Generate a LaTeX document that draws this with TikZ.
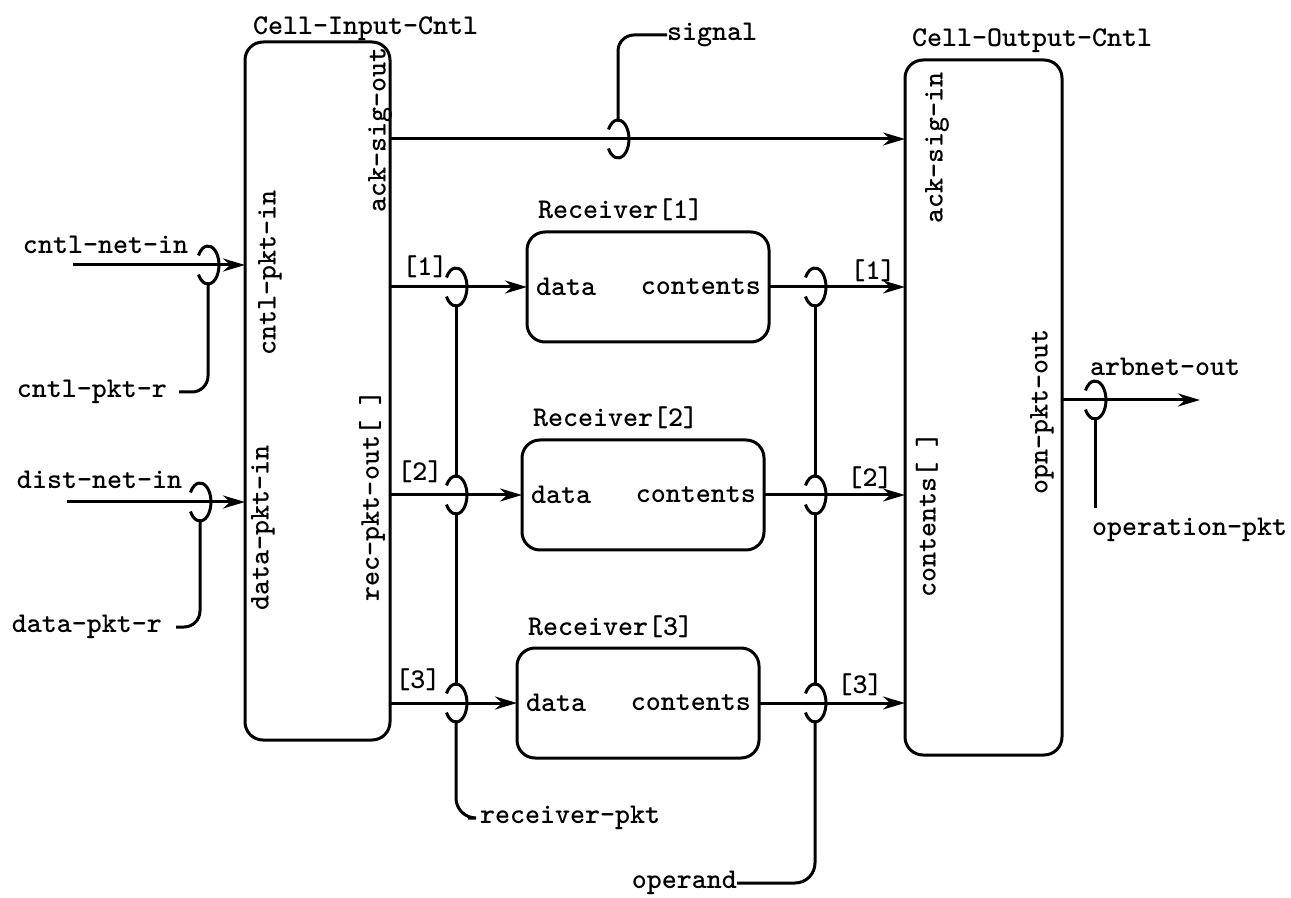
\documentclass[tikz,border=0pt]{standalone}
\usepackage{tikz}
\usetikzlibrary{arrows.meta}

\begin{document}
\begin{tikzpicture}[x=0.5pt,y=-0.5pt,line width=1.5pt,
every node/.style={font=\fontsize{14.3pt}{17pt}\selectfont\ttfamily\fontseries{b}\selectfont,inner sep=0pt,outer sep=0pt},
block/.style={draw,shape=rectangle,rounded corners=9pt},
hook/.style={shape=rectangle,minimum width=11pt,minimum height=19pt},
conn/.style={-{Stealth[length=11pt,width=6.5pt]}}]
\useasboundingbox (0,0) rectangle (1291,898);
% controllers and receivers
\node[block,minimum width=72.5pt,minimum height=349pt] (cin) at (317.5,391) {};
\node[block,minimum width=78.5pt,minimum height=347.5pt] (cout) at (983.5,407.5) {};
\node[block,minimum width=121pt,minimum height=55pt] (rc1) at (648,287) {};
\node[block,minimum width=121pt,minimum height=55pt] (rc2) at (643,495) {};
\node[block,minimum width=121pt,minimum height=55pt] (rc3) at (638,703) {};
\node[anchor=base west] (tin) at (253,35) {Cell-Input-Cntl};
\node[anchor=base west] (tout) at (912,47) {Cell-Output-Cntl};
\foreach \i in {1,2,3} {
\node[anchor=base west] (trc\i) at ([xshift=5.5pt,yshift=6.5pt]rc\i.north west) {Receiver[\i]};
\node[anchor=west] (dat\i) at ([xshift=4.5pt]rc\i.west) {data};
\node[anchor=east] (con\i) at ([xshift=-4pt]rc\i.east) {contents};
}
% ports
\node[rotate=90] (cpin) at (270,273) {cntl-pkt-in};
\node[rotate=90] (dpin) at (263,528) {data-pkt-in};
\node[rotate=90] (rpout) at (372,496) {rec-pkt-out[ ]};
\node[rotate=90] (asout) at (380,130) {ack-sig-out};
\node[rotate=90] (asin) at (937,148) {ack-sig-in};
\node[rotate=90] (cnts) at (927,515) {contents[ ]};
\node[rotate=90] (opout) at (1042,412) {opn-pkt-out};
% hooks
\node[hook] (hc) at (208,265) {};
\node[hook] (hd) at (200,502) {};
\node[hook] (hs) at (618,139) {};
\node[hook] (hl1) at (456,287) {};
\node[hook] (hl2) at (456,495) {};
\node[hook] (hl3) at (456,703) {};
\node[hook] (hr1) at (815,287) {};
\node[hook] (hr2) at (815,495) {};
\node[hook] (hr3) at (815,703) {};
\node[hook] (ha) at (1095,400) {};
\foreach \h in {hc,hd,hs,hl1,hl2,hl3,hr1,hr2,hr3,ha}
\draw (\h.center) ++(-9.53,9.5) arc[start angle=150,end angle=-150,x radius=11,y radius=19];
% names
\node[anchor=west] (cnin) at (23,245) {cntl-net-in};
\node[anchor=east] (cpr) at (167,392) {cntl-pkt-r};
\node[anchor=west] (dnin) at (17,480) {dist-net-in};
\node[anchor=east] (dpr) at (162,627) {data-pkt-r};
\node[anchor=west] (sig) at (667,35) {signal};
\node[anchor=west] (rpkt) at (480,818) {receiver-pkt};
\node[anchor=east] (opd) at (737,883) {operand};
\node[anchor=west] (arb) at (1090,367) {arbnet-out};
\node[anchor=west,outer sep=5pt] (opk) at (1082,530) {operation-pkt};
\node (li1) at (425,267) {[1]};
\node (li2) at (420,472) {[2]};
\node (li3) at (418,680) {[3]};
\node (ri1) at (873,271) {[1]};
\node (ri2) at (870,478) {[2]};
\node (ri3) at (860,685) {[3]};
\coordinate (cnsrc) at (73,265);
\coordinate (dnsrc) at (67,502);
\coordinate (arbdst) at (1200,400);
% connectors
\draw[conn] (cnsrc) -- (cin.west |- cnsrc);
\draw[conn] (dnsrc) -- (cin.west |- dnsrc);
\draw[conn] (cin.east |- hs) -- (cout.west |- hs);
\foreach \i in {1,2,3} {
\draw[conn] (cin.east |- rc\i.west) -- (rc\i.west);
\draw[conn] (rc\i.east) -- (cout.west |- rc\i.east);
}
\draw[conn] (cout.east |- ha) -- (arbdst);
% buses
\draw[rounded corners=8pt] (hc.south) |- ([xshift=6pt]cpr.east);
\draw[rounded corners=8pt] (hd.south) |- ([xshift=7pt]dpr.east);
\draw[rounded corners=8pt] (hs.north) |- (sig.west);
\draw (hl1.south) -- (hl2.north);
\draw (hl2.south) -- (hl3.north);
\draw[rounded corners=10pt] (hl3.south) |- ([xshift=-6pt]rpkt.west);
\draw (hr1.south) -- (hr2.north);
\draw (hr2.south) -- (hr3.north);
\draw[rounded corners=10pt] (hr3.south) |- (opd.east);
\draw (ha.south) -- (ha.south |- opk.north);
\end{tikzpicture}
\end{document}
